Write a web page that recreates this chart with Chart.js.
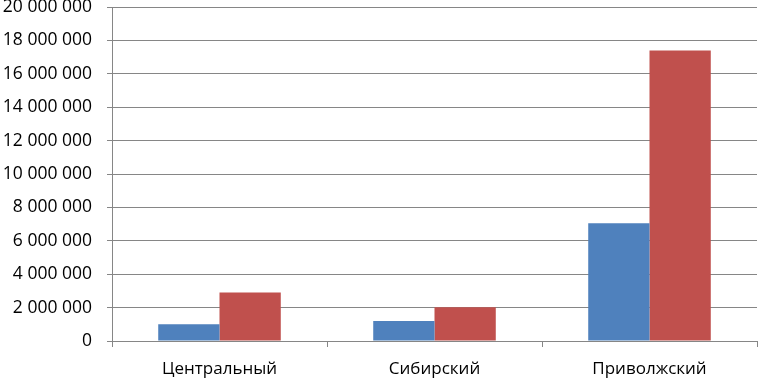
<!DOCTYPE html>
<html>
<head>
<meta charset="utf-8">
<script src="https://cdn.jsdelivr.net/npm/chart.js@4/dist/chart.umd.min.js"></script>
<style>
  html, body { margin: 0; padding: 0; background: #fff; }
  #wrap { width: 758px; height: 378px; }
</style>
</head>
<body>
<div id="wrap"><canvas id="chart" width="758" height="378"></canvas></div>
<script>
// -- Data --
const regions = ['Центральный', 'Сибирский', 'Приволжский'];
const seriesBlue = [1000000, 1200000, 7050000];
const seriesRed = [2900000, 2020000, 17400000];
const yTicks = [0, 2000000, 4000000, 6000000, 8000000, 10000000, 12000000, 14000000, 16000000, 18000000, 20000000];

const fmt = (v) => String(v).replace(/\B(?=(\d{3})+(?!\d))/g, ' ');
const fontFamily = '"Open Sans", "Noto Sans", sans-serif';

const ctx = document.getElementById('chart').getContext('2d');
new Chart(ctx, {
    type: 'bar',
    data: {
        labels: regions,
        datasets: [
            { data: seriesBlue, backgroundColor: '#4F81BD', categoryPercentage: 0.57, barPercentage: 1 },
            { data: seriesRed, backgroundColor: '#C0504D', categoryPercentage: 0.57, barPercentage: 1 }
        ]
    },
    options: {
        responsive: false,
        animation: false,
        layout: { padding: { top: 0, right: 1, left: 0, bottom: 0 } },
        plugins: { legend: { display: false }, tooltip: { enabled: false } },
        scales: {
            x: {
                grid: { drawOnChartArea: false, drawTicks: true, tickLength: 6, color: '#868686' },
                border: { color: '#868686' },
                ticks: { color: '#000', font: { family: fontFamily, size: 17 }, padding: 12 },
                afterFit: (scale) => {
                    scale.height = 37;
                    scale.paddingLeft = 0;
                    scale.paddingRight = 0;
                }
            },
            y: {
                min: 0,
                max: 20000000,
                afterBuildTicks: (scale) => { scale.ticks = yTicks.map(v => ({ value: v })); },
                grid: { color: '#868686', tickLength: 5 },
                border: { color: '#868686' },
                ticks: {
                    color: '#000',
                    font: { family: fontFamily, size: 17.5 },
                    padding: 15,
                    callback: (v) => fmt(v)
                },
                afterFit: (scale) => {
                    scale.width = 112;
                    scale.paddingTop = 7;
                    scale.paddingBottom = 0;
                }
            }
        }
    }
});
</script>
</body>
</html>
